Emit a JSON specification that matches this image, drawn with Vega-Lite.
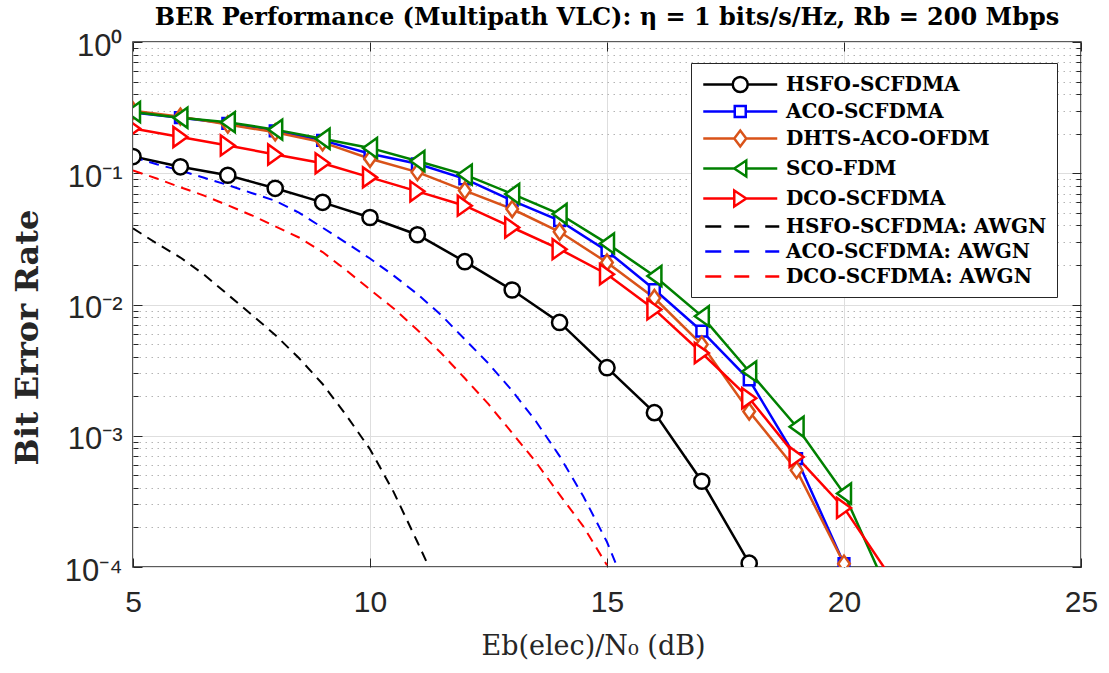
{
  "$schema": "https://vega.github.io/schema/vega-lite/v6.json",
  "width": 948,
  "height": 525,
  "autosize": {"type": "none"},
  "padding": {"left": 133, "top": 42, "right": 28, "bottom": 106},
  "background": "white",
  "config": {
    "view": {"stroke": "#262626", "strokeWidth": 1.5},
    "axis": {"labelOverlap": false, "labelFlush": false}
  },
  "title": {
    "text": "BER Performance (Multipath VLC): η = 1 bits/s/Hz, Rb = 200 Mbps",
    "font": "DejaVu Serif",
    "fontSize": 24,
    "fontWeight": "bold",
    "color": "#000000",
    "anchor": "middle",
    "offset": 0
  },
  "data": {
    "values": [
      {"series": "HSFO-SCFDMA", "snr": 5, "ber": 0.134},
      {"series": "HSFO-SCFDMA", "snr": 6, "ber": 0.112},
      {"series": "HSFO-SCFDMA", "snr": 7, "ber": 0.0966},
      {"series": "HSFO-SCFDMA", "snr": 8, "ber": 0.0768},
      {"series": "HSFO-SCFDMA", "snr": 9, "ber": 0.060},
      {"series": "HSFO-SCFDMA", "snr": 10, "ber": 0.046},
      {"series": "HSFO-SCFDMA", "snr": 11, "ber": 0.034},
      {"series": "HSFO-SCFDMA", "snr": 12, "ber": 0.0212},
      {"series": "HSFO-SCFDMA", "snr": 13, "ber": 0.0129},
      {"series": "HSFO-SCFDMA", "snr": 14, "ber": 0.0073},
      {"series": "HSFO-SCFDMA", "snr": 15, "ber": 0.0033},
      {"series": "HSFO-SCFDMA", "snr": 16, "ber": 0.0015},
      {"series": "HSFO-SCFDMA", "snr": 17, "ber": 0.00045},
      {"series": "HSFO-SCFDMA", "snr": 18, "ber": 0.000107},

      {"series": "ACO-SCFDMA", "snr": 5, "ber": 0.29},
      {"series": "ACO-SCFDMA", "snr": 6, "ber": 0.265},
      {"series": "ACO-SCFDMA", "snr": 7, "ber": 0.24},
      {"series": "ACO-SCFDMA", "snr": 8, "ber": 0.21},
      {"series": "ACO-SCFDMA", "snr": 9, "ber": 0.178},
      {"series": "ACO-SCFDMA", "snr": 10, "ber": 0.141},
      {"series": "ACO-SCFDMA", "snr": 11, "ber": 0.118},
      {"series": "ACO-SCFDMA", "snr": 12, "ber": 0.0906},
      {"series": "ACO-SCFDMA", "snr": 13, "ber": 0.0618},
      {"series": "ACO-SCFDMA", "snr": 14, "ber": 0.0435},
      {"series": "ACO-SCFDMA", "snr": 15, "ber": 0.0256},
      {"series": "ACO-SCFDMA", "snr": 16, "ber": 0.013},
      {"series": "ACO-SCFDMA", "snr": 17, "ber": 0.00626},
      {"series": "ACO-SCFDMA", "snr": 18, "ber": 0.00267},
      {"series": "ACO-SCFDMA", "snr": 19, "ber": 0.00067},
      {"series": "ACO-SCFDMA", "snr": 20, "ber": 0.000106},

      {"series": "DHTS-ACO-OFDM", "snr": 5, "ber": 0.30},
      {"series": "DHTS-ACO-OFDM", "snr": 6, "ber": 0.27},
      {"series": "DHTS-ACO-OFDM", "snr": 7, "ber": 0.235},
      {"series": "DHTS-ACO-OFDM", "snr": 8, "ber": 0.205},
      {"series": "DHTS-ACO-OFDM", "snr": 9, "ber": 0.172},
      {"series": "DHTS-ACO-OFDM", "snr": 10, "ber": 0.129},
      {"series": "DHTS-ACO-OFDM", "snr": 11, "ber": 0.102},
      {"series": "DHTS-ACO-OFDM", "snr": 12, "ber": 0.0738},
      {"series": "DHTS-ACO-OFDM", "snr": 13, "ber": 0.0534},
      {"series": "DHTS-ACO-OFDM", "snr": 14, "ber": 0.0358},
      {"series": "DHTS-ACO-OFDM", "snr": 15, "ber": 0.0209},
      {"series": "DHTS-ACO-OFDM", "snr": 16, "ber": 0.0112},
      {"series": "DHTS-ACO-OFDM", "snr": 17, "ber": 0.00495},
      {"series": "DHTS-ACO-OFDM", "snr": 18, "ber": 0.00153},
      {"series": "DHTS-ACO-OFDM", "snr": 19, "ber": 0.000547},
      {"series": "DHTS-ACO-OFDM", "snr": 20, "ber": 0.000106},

      {"series": "SCO-FDM", "snr": 5, "ber": 0.293},
      {"series": "SCO-FDM", "snr": 6, "ber": 0.265},
      {"series": "SCO-FDM", "snr": 7, "ber": 0.245},
      {"series": "SCO-FDM", "snr": 8, "ber": 0.215},
      {"series": "SCO-FDM", "snr": 9, "ber": 0.183},
      {"series": "SCO-FDM", "snr": 10, "ber": 0.156},
      {"series": "SCO-FDM", "snr": 11, "ber": 0.124},
      {"series": "SCO-FDM", "snr": 12, "ber": 0.0977},
      {"series": "SCO-FDM", "snr": 13, "ber": 0.0696},
      {"series": "SCO-FDM", "snr": 14, "ber": 0.0489},
      {"series": "SCO-FDM", "snr": 15, "ber": 0.0292},
      {"series": "SCO-FDM", "snr": 16, "ber": 0.0165},
      {"series": "SCO-FDM", "snr": 17, "ber": 0.00815},
      {"series": "SCO-FDM", "snr": 18, "ber": 0.00309},
      {"series": "SCO-FDM", "snr": 19, "ber": 0.00117},
      {"series": "SCO-FDM", "snr": 20, "ber": 0.000363},
      {"series": "SCO-FDM", "snr": 21, "ber": 0.000057},

      {"series": "DCO-SCFDMA", "snr": 5, "ber": 0.219},
      {"series": "DCO-SCFDMA", "snr": 6, "ber": 0.189},
      {"series": "DCO-SCFDMA", "snr": 7, "ber": 0.163},
      {"series": "DCO-SCFDMA", "snr": 8, "ber": 0.139},
      {"series": "DCO-SCFDMA", "snr": 9, "ber": 0.119},
      {"series": "DCO-SCFDMA", "snr": 10, "ber": 0.093},
      {"series": "DCO-SCFDMA", "snr": 11, "ber": 0.0728},
      {"series": "DCO-SCFDMA", "snr": 12, "ber": 0.0566},
      {"series": "DCO-SCFDMA", "snr": 13, "ber": 0.0386},
      {"series": "DCO-SCFDMA", "snr": 14, "ber": 0.0264},
      {"series": "DCO-SCFDMA", "snr": 15, "ber": 0.017},
      {"series": "DCO-SCFDMA", "snr": 16, "ber": 0.00917},
      {"series": "DCO-SCFDMA", "snr": 17, "ber": 0.00427},
      {"series": "DCO-SCFDMA", "snr": 18, "ber": 0.00193},
      {"series": "DCO-SCFDMA", "snr": 19, "ber": 0.00069},
      {"series": "DCO-SCFDMA", "snr": 20, "ber": 0.000282},
      {"series": "DCO-SCFDMA", "snr": 21, "ber": 0.000082},

      {"series": "HSFO-SCFDMA: AWGN", "snr": 5, "ber": 0.038},
      {"series": "HSFO-SCFDMA: AWGN", "snr": 5.5, "ber": 0.0292},
      {"series": "HSFO-SCFDMA: AWGN", "snr": 6, "ber": 0.0228},
      {"series": "HSFO-SCFDMA: AWGN", "snr": 6.5, "ber": 0.0169},
      {"series": "HSFO-SCFDMA: AWGN", "snr": 7, "ber": 0.0119},
      {"series": "HSFO-SCFDMA: AWGN", "snr": 7.5, "ber": 0.00837},
      {"series": "HSFO-SCFDMA: AWGN", "snr": 8, "ber": 0.00587},
      {"series": "HSFO-SCFDMA: AWGN", "snr": 8.5, "ber": 0.00391},
      {"series": "HSFO-SCFDMA: AWGN", "snr": 9, "ber": 0.00248},
      {"series": "HSFO-SCFDMA: AWGN", "snr": 9.5, "ber": 0.00143},
      {"series": "HSFO-SCFDMA: AWGN", "snr": 10, "ber": 0.00079},
      {"series": "HSFO-SCFDMA: AWGN", "snr": 10.5, "ber": 0.000372},
      {"series": "HSFO-SCFDMA: AWGN", "snr": 11, "ber": 0.000155},
      {"series": "HSFO-SCFDMA: AWGN", "snr": 11.5, "ber": 0.000063},

      {"series": "ACO-SCFDMA: AWGN", "snr": 5, "ber": 0.133},
      {"series": "ACO-SCFDMA: AWGN", "snr": 5.5, "ber": 0.117},
      {"series": "ACO-SCFDMA: AWGN", "snr": 6, "ber": 0.105},
      {"series": "ACO-SCFDMA: AWGN", "snr": 6.5, "ber": 0.0923},
      {"series": "ACO-SCFDMA: AWGN", "snr": 7, "ber": 0.0813},
      {"series": "ACO-SCFDMA: AWGN", "snr": 7.5, "ber": 0.0708},
      {"series": "ACO-SCFDMA: AWGN", "snr": 8, "ber": 0.0617},
      {"series": "ACO-SCFDMA: AWGN", "snr": 8.5, "ber": 0.0501},
      {"series": "ACO-SCFDMA: AWGN", "snr": 9, "ber": 0.0385},
      {"series": "ACO-SCFDMA: AWGN", "snr": 9.5, "ber": 0.0295},
      {"series": "ACO-SCFDMA: AWGN", "snr": 10, "ber": 0.0224},
      {"series": "ACO-SCFDMA: AWGN", "snr": 10.5, "ber": 0.0166},
      {"series": "ACO-SCFDMA: AWGN", "snr": 11, "ber": 0.012},
      {"series": "ACO-SCFDMA: AWGN", "snr": 11.5, "ber": 0.00832},
      {"series": "ACO-SCFDMA: AWGN", "snr": 12, "ber": 0.00543},
      {"series": "ACO-SCFDMA: AWGN", "snr": 12.5, "ber": 0.00355},
      {"series": "ACO-SCFDMA: AWGN", "snr": 13, "ber": 0.0022},
      {"series": "ACO-SCFDMA: AWGN", "snr": 13.5, "ber": 0.00129},
      {"series": "ACO-SCFDMA: AWGN", "snr": 14, "ber": 0.0007},
      {"series": "ACO-SCFDMA: AWGN", "snr": 14.5, "ber": 0.000346},
      {"series": "ACO-SCFDMA: AWGN", "snr": 15, "ber": 0.000155},
      {"series": "ACO-SCFDMA: AWGN", "snr": 15.5, "ber": 0.000056},

      {"series": "DCO-SCFDMA: AWGN", "snr": 5, "ber": 0.105},
      {"series": "DCO-SCFDMA: AWGN", "snr": 5.5, "ber": 0.0912},
      {"series": "DCO-SCFDMA: AWGN", "snr": 6, "ber": 0.0782},
      {"series": "DCO-SCFDMA: AWGN", "snr": 6.5, "ber": 0.0676},
      {"series": "DCO-SCFDMA: AWGN", "snr": 7, "ber": 0.057},
      {"series": "DCO-SCFDMA: AWGN", "snr": 7.5, "ber": 0.0479},
      {"series": "DCO-SCFDMA: AWGN", "snr": 8, "ber": 0.0394},
      {"series": "DCO-SCFDMA: AWGN", "snr": 8.5, "ber": 0.0324},
      {"series": "DCO-SCFDMA: AWGN", "snr": 9, "ber": 0.0251},
      {"series": "DCO-SCFDMA: AWGN", "snr": 9.5, "ber": 0.0182},
      {"series": "DCO-SCFDMA: AWGN", "snr": 10, "ber": 0.013},
      {"series": "DCO-SCFDMA: AWGN", "snr": 10.5, "ber": 0.00933},
      {"series": "DCO-SCFDMA: AWGN", "snr": 11, "ber": 0.0064},
      {"series": "DCO-SCFDMA: AWGN", "snr": 11.5, "ber": 0.00427},
      {"series": "DCO-SCFDMA: AWGN", "snr": 12, "ber": 0.00274},
      {"series": "DCO-SCFDMA: AWGN", "snr": 12.5, "ber": 0.00174},
      {"series": "DCO-SCFDMA: AWGN", "snr": 13, "ber": 0.00105},
      {"series": "DCO-SCFDMA: AWGN", "snr": 13.5, "ber": 0.00063},
      {"series": "DCO-SCFDMA: AWGN", "snr": 14, "ber": 0.000356},
      {"series": "DCO-SCFDMA: AWGN", "snr": 14.5, "ber": 0.000204},
      {"series": "DCO-SCFDMA: AWGN", "snr": 15, "ber": 0.000103}
    ]
  },
  "encoding": {
    "x": {"field": "snr", "type": "quantitative", "scale": {"domain": [5, 25], "nice": false, "zero": false}, "axis": null},
    "y": {"field": "ber", "type": "quantitative", "scale": {"type": "log", "domain": [0.0001, 1], "nice": false}, "axis": null}
  },
  "resolve": {"axis": {"x": "independent", "y": "independent"}},
  "layer": [
    {
      "transform": [{"filter": "indexof(datum.series, 'AWGN') < 0"}],
      "mark": {"type": "line", "strokeWidth": 2.5, "clip": true},
      "encoding": {
        "x": {"field": "snr", "type": "quantitative", "scale": {"domain": [5, 25], "nice": false, "zero": false},
          "axis": {"orient": "bottom", "values": [5, 10, 15, 20, 25], "labelFont": "Liberation Sans", "labelFontSize": 30, "labelColor": "#262626", "labelPadding": 20, "ticks": false, "domain": false, "grid": true, "gridColor": "#dedede", "gridWidth": 1,
            "title": "Eb(elec)/N₀ (dB)", "titleFont": "DejaVu Serif", "titleFontSize": 27, "titleFontWeight": "normal", "titleColor": "#262626", "titleX": 460, "titleY": 79, "titleBaseline": "middle", "titleAlign": "center"}},
        "y": {"field": "ber", "type": "quantitative", "scale": {"type": "log", "domain": [0.0001, 1], "nice": false},
          "axis": {"orient": "left", "values": [0.0001, 0.001, 0.01, 0.1, 1],
            "labelExpr": "'10' + replace(replace(replace(replace(replace(replace('' + round(log(datum.value)/LN10), '-', '⁻'), '0', '⁰'), '1', '¹'), '2', '²'), '3', '³'), '4', '⁴')",
            "labelFont": "Liberation Sans", "labelFontSize": 31, "labelColor": "#262626", "labelPadding": 11, "labelBaseline": "middle", "labelOffset": 4,
            "ticks": false, "domain": false, "grid": true, "gridColor": "#dedede", "gridWidth": 1,
            "title": "Bit Error Rate", "titleFont": "DejaVu Serif", "titleFontSize": 32, "titleFontWeight": "bold", "titleColor": "#262626", "titleX": -106, "titleY": 295, "titleAngle": -90, "titleBaseline": "middle", "titleAlign": "center"}},
        "color": {"field": "series", "type": "nominal", "legend": null,
          "scale": {"domain": ["HSFO-SCFDMA: AWGN", "ACO-SCFDMA: AWGN", "DCO-SCFDMA: AWGN", "HSFO-SCFDMA", "ACO-SCFDMA", "DHTS-ACO-OFDM", "SCO-FDM", "DCO-SCFDMA"],
            "range": ["#000000", "#0000ff", "#ff0000", "#000000", "#0000ff", "#d95319", "#008000", "#ff0000"]}}
      }
    },
    {
      "transform": [{"filter": "indexof(datum.series, 'AWGN') >= 0"}],
      "mark": {"type": "line", "strokeWidth": 2, "strokeDash": [10, 7], "clip": true},
      "encoding": {
        "x": {"field": "snr", "type": "quantitative", "scale": {"domain": [5, 25], "nice": false, "zero": false},
          "axis": {"orient": "bottom", "values": [5, 10, 15, 20, 25], "labels": false, "domain": false, "grid": false, "ticks": true, "tickSize": -9, "tickColor": "#262626", "tickWidth": 1, "title": null}},
        "y": {"field": "ber", "type": "quantitative", "scale": {"type": "log", "domain": [0.0001, 1], "nice": false},
          "axis": {"orient": "left",
            "values": [0.0001, 0.0002, 0.0003, 0.0004, 0.0005, 0.0006, 0.0007, 0.0008, 0.0009, 0.001, 0.002, 0.003, 0.004, 0.005, 0.006, 0.007, 0.008, 0.009, 0.01, 0.02, 0.03, 0.04, 0.05, 0.06, 0.07, 0.08, 0.09, 0.1, 0.2, 0.3, 0.4, 0.5, 0.6, 0.7, 0.8, 0.9, 1],
            "labels": false, "domain": false, "title": null,
            "ticks": true, "tickColor": "#262626", "tickWidth": 1,
            "tickSize": {"condition": {"test": "indexof([0.0001, 0.001, 0.01, 0.1, 1], datum.value) >= 0", "value": -9}, "value": -5},
            "grid": true, "gridColor": "#b4b4b4", "gridWidth": 1, "gridDash": [1.5, 4.5],
            "gridOpacity": {"condition": {"test": "indexof([0.0001, 0.001, 0.01, 0.1, 1], datum.value) >= 0", "value": 0}, "value": 1}}},
        "color": {"field": "series", "type": "nominal", "legend": null}
      }
    },
    {
      "transform": [{"filter": "datum.series == 'HSFO-SCFDMA'"}],
      "mark": {"type": "point", "shape": "circle", "size": 230, "filled": false, "fill": "white", "stroke": "#000000", "strokeWidth": 2.5, "opacity": 1, "clip": true},
      "encoding": {
        "x": {"field": "snr", "type": "quantitative", "scale": {"domain": [5, 25], "nice": false, "zero": false},
          "axis": {"orient": "top", "values": [5, 10, 15, 20, 25], "labels": false, "domain": false, "grid": false, "ticks": true, "tickSize": -9, "tickColor": "#262626", "tickWidth": 1, "title": null}}
      }
    },
    {
      "transform": [{"filter": "datum.series == 'ACO-SCFDMA'"}],
      "mark": {"type": "point", "shape": "square", "size": 115, "filled": false, "fill": "white", "stroke": "#0000ff", "strokeWidth": 2.5, "opacity": 1, "clip": true},
      "encoding": {
        "y": {"field": "ber", "type": "quantitative", "scale": {"type": "log", "domain": [0.0001, 1], "nice": false},
          "axis": {"orient": "right",
            "values": [0.0001, 0.0002, 0.0003, 0.0004, 0.0005, 0.0006, 0.0007, 0.0008, 0.0009, 0.001, 0.002, 0.003, 0.004, 0.005, 0.006, 0.007, 0.008, 0.009, 0.01, 0.02, 0.03, 0.04, 0.05, 0.06, 0.07, 0.08, 0.09, 0.1, 0.2, 0.3, 0.4, 0.5, 0.6, 0.7, 0.8, 0.9, 1],
            "labels": false, "domain": false, "title": null, "grid": false,
            "ticks": true, "tickColor": "#262626", "tickWidth": 1,
            "tickSize": {"condition": {"test": "indexof([0.0001, 0.001, 0.01, 0.1, 1], datum.value) >= 0", "value": -9}, "value": -5}}}
      }
    },
    {
      "transform": [{"filter": "datum.series == 'DHTS-ACO-OFDM'"}],
      "mark": {"type": "point", "shape": "M0,-1L0.72,0L0,1L-0.72,0Z", "size": 260, "filled": false, "fill": "white", "stroke": "#d95319", "strokeWidth": 2.5, "opacity": 1, "clip": true},
      "encoding": {}
    },
    {
      "transform": [{"filter": "datum.series == 'SCO-FDM'"}],
      "mark": {"type": "point", "shape": "M-0.7,0L0.7,-1L0.7,1Z", "size": 400, "filled": false, "fill": "white", "stroke": "#008000", "strokeWidth": 2.5, "opacity": 1, "clip": true},
      "encoding": {}
    },
    {
      "transform": [{"filter": "datum.series == 'DCO-SCFDMA'"}],
      "mark": {"type": "point", "shape": "M0.7,0L-0.7,-1L-0.7,1Z", "size": 400, "filled": false, "fill": "white", "stroke": "#ff0000", "strokeWidth": 2.5, "opacity": 1, "clip": true},
      "encoding": {}
    },
    {
      "transform": [{"filter": "datum.snr > 20.5"}],
      "mark": {"type": "point", "filled": false, "fill": "white", "strokeWidth": 2.5, "opacity": 1, "clip": true},
      "encoding": {
        "stroke": {"field": "series", "type": "nominal",
          "scale": {"domain": ["HSFO-SCFDMA", "ACO-SCFDMA", "DHTS-ACO-OFDM", "SCO-FDM", "DCO-SCFDMA", "HSFO-SCFDMA: AWGN", "ACO-SCFDMA: AWGN", "DCO-SCFDMA: AWGN"],
            "range": ["#000000", "#0000ff", "#d95319", "#008000", "#ff0000", "#000000", "#0000ff", "#ff0000"]},
          "legend": {"title": null, "orient": "none", "legendX": 558, "legendY": 21, "symbolSize": 400, "symbolStrokeWidth": 2.5, "symbolFillColor": "white", "symbolOpacity": 1,
            "labelFont": "DejaVu Serif", "labelFontWeight": "bold", "labelFontSize": 20, "labelColor": "#000000", "labelLimit": 400, "labelOffset": 62,
            "strokeColor": "#262626", "fillColor": "white", "padding": 10, "rowPadding": 3}},
        "shape": {"field": "series", "type": "nominal",
          "scale": {"domain": ["HSFO-SCFDMA", "ACO-SCFDMA", "DHTS-ACO-OFDM", "SCO-FDM", "DCO-SCFDMA", "HSFO-SCFDMA: AWGN", "ACO-SCFDMA: AWGN", "DCO-SCFDMA: AWGN"],
            "range": [
              "M-0.925,0H2.025M3.525,0H6.475M2.025,0A0.75,0.75,0,1,1,3.525,0A0.75,0.75,0,1,1,2.025,0Z",
              "M-0.925,0H2.225M3.325,0H6.475M2.225,-0.55H3.325V0.55H2.225Z",
              "M-0.925,0H2.175M3.375,0H6.475M2.775,-0.8L3.375,0L2.775,0.8L2.175,0Z",
              "M-0.925,0H2.175M3.375,0H6.475M2.175,0L3.375,-0.8L3.375,0.8Z",
              "M-0.925,0H2.175M3.375,0H6.475M3.375,0L2.175,-0.8L2.175,0.8Z",
              "M-0.725,0H0.875M2.175,0H3.675M5.275,0H6.675",
              "M-0.725,0H0.875M2.175,0H3.675M5.275,0H6.675",
              "M-0.725,0H0.875M2.175,0H3.675M5.275,0H6.675"
            ]},
          "legend": {"title": null, "orient": "none", "legendX": 558, "legendY": 21, "symbolSize": 400, "symbolStrokeWidth": 2.5, "symbolFillColor": "white", "symbolOpacity": 1,
            "labelFont": "DejaVu Serif", "labelFontWeight": "bold", "labelFontSize": 20, "labelColor": "#000000", "labelLimit": 400, "labelOffset": 62,
            "strokeColor": "#262626", "fillColor": "white", "padding": 10, "rowPadding": 3}}
      }
    }
  ]
}
